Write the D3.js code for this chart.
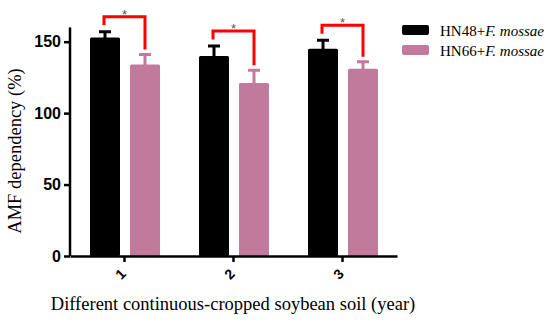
<!DOCTYPE html>
<html>
<head>
<meta charset="utf-8">
<script src="https://cdn.jsdelivr.net/npm/d3@7"></script>
<style>
  body { margin: 0; background: #fff; }
  svg { display: block; }
</style>
</head>
<body>
<script>
var categories = ["1", "2", "3"];
var seriesNames = ["HN48+", "HN66+"];
var hn48 = [153, 140, 145];
var hn48Err = [4, 7, 6];
var hn66 = [134, 121, 131];
var hn66Err = [7, 9, 5];
var yTicks = [0, 50, 100, 150];

function init() {
    var w = 550, h = 321;
    var colors = ["#000000", "#c17a9b"];

    var svg = d3.select("body").append("svg")
        .attr("width", w)
        .attr("height", h);

    var x = d3.scaleBand()
        .domain(categories)
        .range([70, 397])
        .padding(0);

    var xSub = d3.scaleBand()
        .domain([0, 1])
        .range([20, 90])
        .paddingInner(0.25)
        .paddingOuter(0);

    var y = d3.scaleLinear()
        .domain([0, 160])
        .range([256, 27.4]);

    var rows = categories.map(function (c, i) {
        return [
            { cat: c, s: 0, v: hn48[i], e: hn48Err[i] },
            { cat: c, s: 1, v: hn66[i], e: hn66Err[i] }
        ];
    });

    //bars
    var groups = svg.selectAll("g.grp")
        .data(rows)
        .enter()
        .append("g")
        .attr("class", "grp");

    groups.selectAll("rect")
        .data(function (d) { return d; })
        .enter()
        .append("rect")
        .attr("x", function (d) { return x(d.cat) + xSub(d.s); })
        .attr("y", function (d) { return y(d.v); })
        .attr("width", xSub.bandwidth())
        .attr("height", function (d) { return y(0) - y(d.v); })
        .attr("rx", 1.5)
        .attr("fill", function (d) { return colors[d.s]; });

    //error bars
    groups.selectAll("path.err")
        .data(function (d) { return d; })
        .enter()
        .append("path")
        .attr("class", "err")
        .attr("fill", "none")
        .attr("stroke", function (d) { return colors[d.s]; })
        .attr("stroke-width", 3)
        .attr("d", function (d) {
            var cx = x(d.cat) + xSub(d.s) + xSub.bandwidth() / 2;
            var top = y(d.v + d.e);
            return "M" + cx + "," + (y(d.v) + 1) + "V" + top +
                "M" + (cx - 6) + "," + top + "H" + (cx + 6);
        });

    //significance brackets
    groups.append("path")
        .attr("fill", "none")
        .attr("stroke", "#ff0000")
        .attr("stroke-width", 3)
        .attr("d", function (d) {
            var x1 = x(d[0].cat) + xSub(0) + xSub.bandwidth() / 2 - 1;
            var x2 = x(d[1].cat) + xSub(1) + xSub.bandwidth() / 2;
            var t1 = y(d[0].v + d[0].e);
            var t2 = y(d[1].v + d[1].e);
            var hy = t1 - 15;
            return "M" + x1 + "," + (t1 - 6.5) + "V" + hy + "H" + x2 + "V" + (t2 - 5);
        });

    groups.append("text")
        .attr("x", function (d) { return x(d[0].cat) + x.bandwidth() / 2; })
        .attr("y", function (d) { return y(d[0].v + d[0].e) - 15 + 2; })
        .attr("text-anchor", "middle")
        .attr("font-family", "Liberation Sans, Arial, sans-serif")
        .attr("font-size", 13)
        .attr("fill", "#555")
        .text("*");

    //axes
    var yAxis = svg.append("g")
        .attr("transform", "translate(70,0)")
        .call(d3.axisLeft(y).tickValues(yTicks).tickSize(6).tickPadding(3));
    yAxis.selectAll("path, line").attr("stroke", "#000").attr("stroke-width", 2.5);
    yAxis.select(".domain").attr("d", "M0," + y(160) + "V" + y(0));
    yAxis.selectAll("text")
        .attr("font-family", "Liberation Sans, Arial, sans-serif")
        .attr("font-weight", "bold")
        .attr("font-size", 16)
        .attr("fill", "#000");

    var xAxis = svg.append("g")
        .attr("transform", "translate(0," + y(0) + ")")
        .call(d3.axisBottom(x).tickSize(6).tickSizeOuter(0));
    xAxis.selectAll("path, line").attr("stroke", "#000").attr("stroke-width", 2.5);
    xAxis.selectAll("text")
        .attr("font-family", "Liberation Sans, Arial, sans-serif")
        .attr("font-weight", "bold")
        .attr("font-size", 14)
        .attr("fill", "#000")
        .attr("text-anchor", "middle")
        .attr("dy", null)
        .attr("y", 0)
        .attr("transform", "translate(-4,18) rotate(-45)")
        .attr("dominant-baseline", "central");

    //axis titles
    svg.append("text")
        .attr("x", 233)
        .attr("y", 310)
        .attr("text-anchor", "middle")
        .attr("font-family", "Liberation Serif, Times New Roman, serif")
        .attr("font-size", 18.5)
        .text("Different continuous-cropped soybean soil (year)");

    svg.append("text")
        .attr("transform", "translate(21,151) rotate(-90)")
        .attr("text-anchor", "middle")
        .attr("font-family", "Liberation Serif, Times New Roman, serif")
        .attr("font-size", 18.5)
        .text("AMF dependency (%)");

    //legend
    var legend = svg.selectAll("g.leg")
        .data(seriesNames)
        .enter()
        .append("g")
        .attr("class", "leg")
        .attr("transform", function (d, i) { return "translate(402," + (25 + i * 20) + ")"; });

    legend.append("rect")
        .attr("width", 27)
        .attr("height", 10)
        .attr("rx", 2)
        .attr("fill", function (d, i) { return colors[i]; });

    var lt = legend.append("text")
        .attr("x", 38)
        .attr("y", 11)
        .attr("font-family", "Liberation Serif, Times New Roman, serif")
        .attr("font-size", 15)
        .attr("fill", "#000");
    lt.append("tspan").text(function (d) { return d; });
    lt.append("tspan").attr("font-style", "italic").text("F. mossae");
}
window.onload = init;
</script>
</body>
</html>
